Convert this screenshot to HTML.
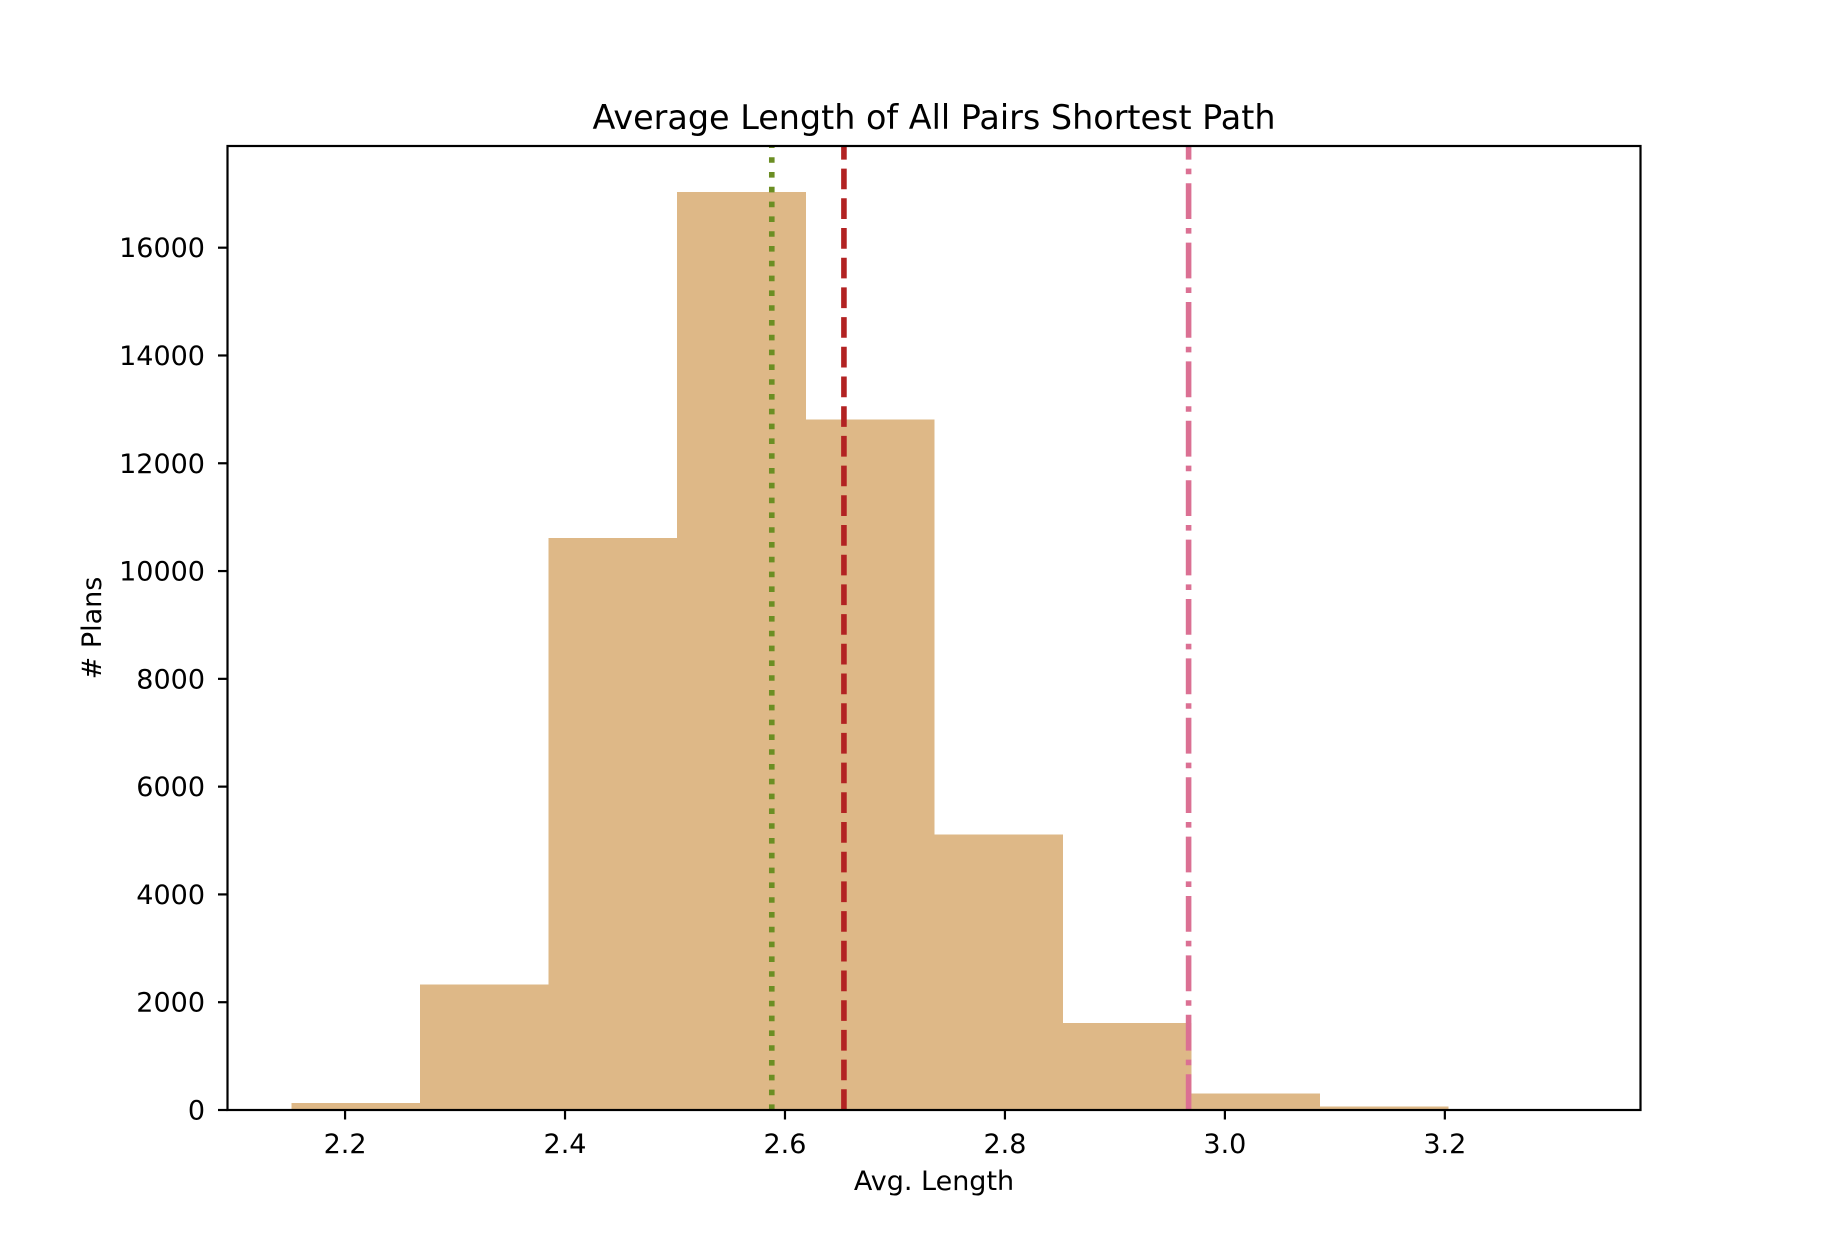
<!DOCTYPE html>
<html><head><meta charset="utf-8"><style>
html,body{margin:0;padding:0;background:#fff;}
svg{display:block;font-family:"DejaVu Sans","Liberation Sans",sans-serif;}
</style></head><body>
<svg id="chart" width="1822" height="1246" viewBox="0 0 1822 1246" xmlns="http://www.w3.org/2000/svg">
<rect x="0" y="0" width="1822" height="1246" fill="#fff"/>
<g id="bars" shape-rendering="crispEdges"></g>
<g id="vlines"></g>
<rect x="227.5" y="146" width="1413" height="964" fill="none" stroke="#000" stroke-width="2.2"/>
<g id="xticks"></g>
<g id="yticks"></g>
<text x="934" y="129" font-size="33.4" text-anchor="middle">Average Length of All Pairs Shortest Path</text>
<text x="934" y="1190" font-size="27" text-anchor="middle">Avg. Length</text>
<text x="0" y="0" font-size="27" text-anchor="middle" transform="translate(101,628) rotate(-90)"># Plans</text>
</svg>
<script>
const binStart = 2.1515;
const binWidth = 0.1168;
const binCounts = [129, 2329, 10609, 17035, 12808, 5110, 1617, 302, 65, 8];
const xTickValues = [2.2, 2.4, 2.6, 2.8, 3.0, 3.2];
const xTickLabels = ["2.2", "2.4", "2.6", "2.8", "3.0", "3.2"];
const yTickValues = [0, 2000, 4000, 6000, 8000, 10000, 12000, 14000, 16000];
const yTickLabels = ["0", "2000", "4000", "6000", "8000", "10000", "12000", "14000", "16000"];
const refLineNames = ["median-line", "mean-line", "reference-line"];
const refLineValues = [2.588, 2.6536, 2.967];

const NS = "http://www.w3.org/2000/svg";
const L = 227.5, R = 1640.5, T = 146, B = 1110;
const xMin = binStart - binWidth * binCounts.length * 0.05;
const xMax = binStart + binWidth * binCounts.length * 1.05;
const yMax = Math.max(...binCounts) * 1.05;
function sx(v){ return L + (v - xMin) / (xMax - xMin) * (R - L); }
function sy(v){ return B - v / yMax * (B - T); }
function mk(tag, attrs){ const e = document.createElementNS(NS, tag); for (const k in attrs) e.setAttribute(k, attrs[k]); return e; }

const bars = document.getElementById("bars");
binCounts.forEach((c, i) => {
  const x0 = sx(binStart + i * binWidth), x1 = sx(binStart + (i + 1) * binWidth);
  const r = mk("rect", {x: x0, y: sy(c), width: x1 - x0 + 0.6, height: B - sy(c), fill: "#DEB887"});
  
  
  bars.appendChild(r);
});

const lineColors = ["#6B8E23", "#B22222", "#DB7093"];
const lineDash = ["5.6 9.2", "20.7 9", "35.8 9 5.6 9"];
const vl = document.getElementById("vlines");
refLineValues.forEach((v, i) => {
  const ln = mk("line", {x1: sx(v), x2: sx(v), y1: B, y2: T, stroke: lineColors[i], "stroke-width": 5.6, "stroke-dasharray": lineDash[i]});
  
  
  vl.appendChild(ln);
});

const xt = document.getElementById("xticks");
xTickValues.forEach((v, i) => {
  const x = sx(v);
  const t = mk("line", {x1: x, x2: x, y1: B, y2: B + 9.5, stroke: "#000", "stroke-width": 2.2});
  
  
  xt.appendChild(t);
  const lb = mk("text", {x: x, y: 1153, "font-size": 27, "text-anchor": "middle"});
  lb.textContent = xTickLabels[i];
  
  
  xt.appendChild(lb);
});

const yt = document.getElementById("yticks");
yTickValues.forEach((v, i) => {
  const y = sy(v);
  const t = mk("line", {x1: L - 9.5, x2: L, y1: y, y2: y, stroke: "#000", "stroke-width": 2.2});
  
  
  yt.appendChild(t);
  const lb = mk("text", {x: 205, y: y + 9.5, "font-size": 27, "text-anchor": "end"});
  lb.textContent = yTickLabels[i];
  
  
  yt.appendChild(lb);
});
</script>
</body></html>
